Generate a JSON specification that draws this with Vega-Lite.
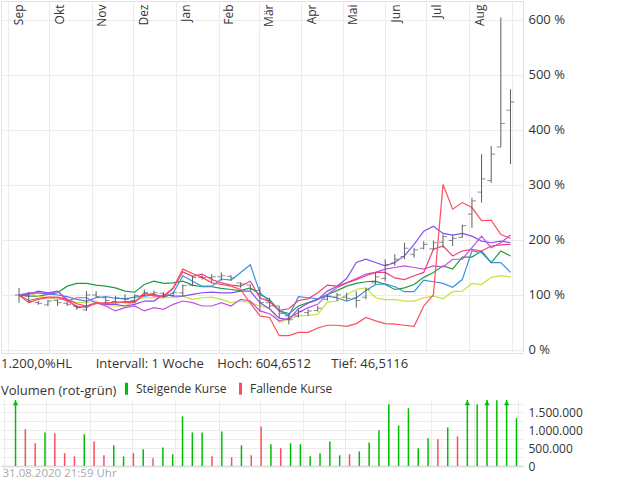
{
  "$schema": "https://vega.github.io/schema/vega-lite/v6.json",
  "padding": 0,
  "autosize": {"type": "pad"},
  "background": "white",
  "spacing": 0,
  "config": {
    "font": "Open Sans",
    "view": {"stroke": null},
    "axis": {"labelFont": "Open Sans", "labelFontSize": 12, "labelColor": "#333333", "gridColor": "#ececec", "gridWidth": 1, "domain": false, "ticks": false, "title": null, "labelOverlap": false}
  },
  "datasets": {
    "lines": [
      {"d": "2019-09-09", "G": 100, "B": 100, "Y": 100, "V": 100, "M": 100, "C": 100, "R": 100},
      {"d": "2019-09-16", "G": 98, "B": 103, "Y": 104, "V": 101, "M": 104, "C": 90, "R": 86},
      {"d": "2019-09-23", "G": 98, "B": 104, "Y": 98, "V": 107, "M": 104, "C": 94, "R": 92},
      {"d": "2019-09-30", "G": 101, "B": 102, "Y": 95, "V": 104, "M": 101, "C": 96, "R": 95},
      {"d": "2019-10-07", "G": 104, "B": 100, "Y": 92, "V": 107, "M": 107, "C": 96, "R": 95},
      {"d": "2019-10-14", "G": 116, "B": 97, "Y": 92, "V": 92, "M": 89, "C": 92, "R": 89},
      {"d": "2019-10-21", "G": 121, "B": 92, "Y": 86, "V": 77, "M": 95, "C": 84, "R": 80},
      {"d": "2019-10-28", "G": 121, "B": 89, "Y": 86, "V": 80, "M": 95, "C": 80, "R": 77},
      {"d": "2019-11-04", "G": 118, "B": 95, "Y": 89, "V": 86, "M": 86, "C": 84, "R": 86},
      {"d": "2019-11-11", "G": 116, "B": 97, "Y": 80, "V": 83, "M": 80, "C": 86, "R": 84},
      {"d": "2019-11-18", "G": 113, "B": 94, "Y": 80, "V": 83, "M": 71, "C": 85, "R": 88},
      {"d": "2019-11-25", "G": 107, "B": 93, "Y": 80, "V": 80, "M": 77, "C": 88, "R": 86},
      {"d": "2019-12-02", "G": 105, "B": 96, "Y": 89, "V": 83, "M": 80, "C": 88, "R": 86},
      {"d": "2019-12-09", "G": 119, "B": 98, "Y": 95, "V": 89, "M": 71, "C": 100, "R": 104},
      {"d": "2019-12-16", "G": 125, "B": 100, "Y": 95, "V": 89, "M": 77, "C": 101, "R": 98},
      {"d": "2019-12-23", "G": 121, "B": 95, "Y": 95, "V": 101, "M": 74, "C": 96, "R": 98},
      {"d": "2019-12-30", "G": 122, "B": 104, "Y": 95, "V": 98, "M": 83, "C": 112, "R": 113},
      {"d": "2020-01-06", "G": 125, "B": 135, "Y": 98, "V": 98, "M": 89, "C": 142, "R": 147},
      {"d": "2020-01-13", "G": 118, "B": 125, "Y": 92, "V": 101, "M": 86, "C": 134, "R": 139},
      {"d": "2020-01-20", "G": 115, "B": 116, "Y": 95, "V": 104, "M": 80, "C": 138, "R": 132},
      {"d": "2020-01-27", "G": 115, "B": 116, "Y": 96, "V": 105, "M": 80, "C": 128, "R": 122},
      {"d": "2020-02-03", "G": 112, "B": 129, "Y": 92, "V": 104, "M": 86, "C": 122, "R": 119},
      {"d": "2020-02-10", "G": 110, "B": 127, "Y": 86, "V": 104, "M": 80, "C": 118, "R": 116},
      {"d": "2020-02-17", "G": 108, "B": 141, "Y": 89, "V": 107, "M": 92, "C": 116, "R": 110},
      {"d": "2020-02-24", "G": 113, "B": 155, "Y": 86, "V": 107, "M": 89, "C": 125, "R": 85},
      {"d": "2020-03-02", "G": 101, "B": 104, "Y": 80, "V": 86, "M": 71, "C": 95, "R": 62},
      {"d": "2020-03-09", "G": 92, "B": 88, "Y": 76, "V": 75, "M": 66, "C": 88, "R": 59},
      {"d": "2020-03-16", "G": 71, "B": 71, "Y": 50, "V": 58, "M": 53, "C": 72, "R": 26},
      {"d": "2020-03-23", "G": 66, "B": 62, "Y": 56, "V": 55, "M": 58, "C": 75, "R": 26},
      {"d": "2020-03-30", "G": 80, "B": 97, "Y": 62, "V": 75, "M": 68, "C": 90, "R": 32},
      {"d": "2020-04-06", "G": 86, "B": 95, "Y": 63, "V": 85, "M": 77, "C": 93, "R": 32},
      {"d": "2020-04-13", "G": 92, "B": 93, "Y": 65, "V": 92, "M": 83, "C": 104, "R": 40},
      {"d": "2020-04-20", "G": 101, "B": 98, "Y": 87, "V": 107, "M": 101, "C": 118, "R": 45},
      {"d": "2020-04-27", "G": 108, "B": 95, "Y": 89, "V": 116, "M": 113, "C": 116, "R": 45},
      {"d": "2020-05-04", "G": 116, "B": 89, "Y": 101, "V": 130, "M": 122, "C": 122, "R": 43},
      {"d": "2020-05-11", "G": 121, "B": 95, "Y": 110, "V": 159, "M": 130, "C": 128, "R": 48},
      {"d": "2020-05-18", "G": 124, "B": 108, "Y": 113, "V": 165, "M": 138, "C": 135, "R": 59},
      {"d": "2020-05-25", "G": 125, "B": 119, "Y": 95, "V": 159, "M": 141, "C": 141, "R": 53},
      {"d": "2020-06-01", "G": 119, "B": 120, "Y": 91, "V": 153, "M": 147, "C": 141, "R": 48},
      {"d": "2020-06-08", "G": 110, "B": 115, "Y": 92, "V": 159, "M": 150, "C": 131, "R": 47},
      {"d": "2020-06-15", "G": 113, "B": 106, "Y": 89, "V": 171, "M": 153, "C": 128, "R": 45},
      {"d": "2020-06-22", "G": 119, "B": 106, "Y": 89, "V": 192, "M": 150, "C": 135, "R": 43},
      {"d": "2020-06-29", "G": 132, "B": 127, "Y": 95, "V": 216, "M": 147, "C": 141, "R": 80},
      {"d": "2020-07-06", "G": 141, "B": 124, "Y": 98, "V": 225, "M": 153, "C": 183, "R": 100},
      {"d": "2020-07-13", "G": 153, "B": 121, "Y": 93, "V": 212, "M": 151, "C": 189, "R": 301},
      {"d": "2020-07-20", "G": 147, "B": 114, "Y": 106, "V": 209, "M": 165, "C": 171, "R": 256},
      {"d": "2020-07-27", "G": 169, "B": 128, "Y": 107, "V": 212, "M": 165, "C": 180, "R": 268},
      {"d": "2020-08-03", "G": 169, "B": 180, "Y": 121, "V": 207, "M": 186, "C": 183, "R": 259},
      {"d": "2020-08-10", "G": 180, "B": 177, "Y": 119, "V": 198, "M": 207, "C": 180, "R": 235},
      {"d": "2020-08-17", "G": 159, "B": 159, "Y": 132, "V": 195, "M": 186, "C": 189, "R": 236},
      {"d": "2020-08-24", "G": 180, "B": 159, "Y": 135, "V": 198, "M": 195, "C": 191, "R": 210},
      {"d": "2020-08-31", "G": 171, "B": 141, "Y": 133, "V": 195, "M": 209, "C": 192, "R": 203}
    ],
    "weeks": [
      {"d": "2019-09-09", "o": 100, "h": 113, "l": 86, "c": 98, "vol": 2500000, "dir": "Steigende Kurse"},
      {"d": "2019-09-16", "o": 98, "h": 104, "l": 86, "c": 88, "vol": 1030000, "dir": "Fallende Kurse"},
      {"d": "2019-09-23", "o": 86, "h": 89, "l": 82, "c": 85, "vol": 640000, "dir": "Fallende Kurse"},
      {"d": "2019-09-30", "o": 82, "h": 91, "l": 80, "c": 89, "vol": 940000, "dir": "Steigende Kurse"},
      {"d": "2019-10-07", "o": 90, "h": 92, "l": 80, "c": 86, "vol": 920000, "dir": "Fallende Kurse"},
      {"d": "2019-10-14", "o": 85, "h": 87, "l": 80, "c": 83, "vol": 360000, "dir": "Fallende Kurse"},
      {"d": "2019-10-21", "o": 80, "h": 81, "l": 73, "c": 77, "vol": 270000, "dir": "Fallende Kurse"},
      {"d": "2019-10-28", "o": 73, "h": 107, "l": 71, "c": 100, "vol": 890000, "dir": "Steigende Kurse"},
      {"d": "2019-11-04", "o": 100, "h": 107, "l": 95, "c": 97, "vol": 690000, "dir": "Fallende Kurse"},
      {"d": "2019-11-11", "o": 95, "h": 96, "l": 86, "c": 90, "vol": 300000, "dir": "Fallende Kurse"},
      {"d": "2019-11-18", "o": 88, "h": 98, "l": 86, "c": 95, "vol": 580000, "dir": "Steigende Kurse"},
      {"d": "2019-11-25", "o": 94, "h": 101, "l": 89, "c": 92, "vol": 270000, "dir": "Steigende Kurse"},
      {"d": "2019-12-02", "o": 90, "h": 101, "l": 86, "c": 99, "vol": 360000, "dir": "Fallende Kurse"},
      {"d": "2019-12-09", "o": 99, "h": 110, "l": 98, "c": 104, "vol": 470000, "dir": "Steigende Kurse"},
      {"d": "2019-12-16", "o": 103, "h": 108, "l": 100, "c": 104, "vol": 220000, "dir": "Fallende Kurse"},
      {"d": "2019-12-23", "o": 103, "h": 105, "l": 95, "c": 98, "vol": 520000, "dir": "Steigende Kurse"},
      {"d": "2019-12-30", "o": 99, "h": 106, "l": 98, "c": 104, "vol": 330000, "dir": "Steigende Kurse"},
      {"d": "2020-01-06", "o": 104, "h": 119, "l": 98, "c": 117, "vol": 1390000, "dir": "Steigende Kurse"},
      {"d": "2020-01-13", "o": 118, "h": 135, "l": 116, "c": 132, "vol": 940000, "dir": "Steigende Kurse"},
      {"d": "2020-01-20", "o": 132, "h": 136, "l": 128, "c": 132, "vol": 940000, "dir": "Steigende Kurse"},
      {"d": "2020-01-27", "o": 132, "h": 138, "l": 123, "c": 133, "vol": 270000, "dir": "Fallende Kurse"},
      {"d": "2020-02-03", "o": 133, "h": 141, "l": 126, "c": 135, "vol": 970000, "dir": "Steigende Kurse"},
      {"d": "2020-02-10", "o": 134, "h": 136, "l": 126, "c": 131, "vol": 240000, "dir": "Fallende Kurse"},
      {"d": "2020-02-17", "o": 122, "h": 123, "l": 113, "c": 120, "vol": 580000, "dir": "Steigende Kurse"},
      {"d": "2020-02-24", "o": 118, "h": 119, "l": 107, "c": 110, "vol": 300000, "dir": "Fallende Kurse"},
      {"d": "2020-03-02", "o": 108, "h": 115, "l": 70, "c": 86, "vol": 1110000, "dir": "Fallende Kurse"},
      {"d": "2020-03-09", "o": 86, "h": 95, "l": 76, "c": 80, "vol": 610000, "dir": "Steigende Kurse"},
      {"d": "2020-03-16", "o": 80, "h": 80, "l": 58, "c": 66, "vol": 500000, "dir": "Fallende Kurse"},
      {"d": "2020-03-23", "o": 62, "h": 65, "l": 46.51, "c": 55, "vol": 640000, "dir": "Steigende Kurse"},
      {"d": "2020-03-30", "o": 62, "h": 74, "l": 59, "c": 70, "vol": 610000, "dir": "Steigende Kurse"},
      {"d": "2020-04-06", "o": 68, "h": 74, "l": 62, "c": 71, "vol": 270000, "dir": "Steigende Kurse"},
      {"d": "2020-04-13", "o": 72, "h": 80, "l": 70, "c": 76, "vol": 360000, "dir": "Steigende Kurse"},
      {"d": "2020-04-20", "o": 92, "h": 101, "l": 90, "c": 98, "vol": 690000, "dir": "Steigende Kurse"},
      {"d": "2020-04-27", "o": 96, "h": 104, "l": 89, "c": 100, "vol": 300000, "dir": "Steigende Kurse"},
      {"d": "2020-05-04", "o": 96, "h": 104, "l": 90, "c": 94, "vol": 330000, "dir": "Fallende Kurse"},
      {"d": "2020-05-11", "o": 94, "h": 107, "l": 77, "c": 90, "vol": 410000, "dir": "Steigende Kurse"},
      {"d": "2020-05-18", "o": 96, "h": 113, "l": 92, "c": 110, "vol": 660000, "dir": "Steigende Kurse"},
      {"d": "2020-05-25", "o": 122, "h": 141, "l": 119, "c": 133, "vol": 1000000, "dir": "Steigende Kurse"},
      {"d": "2020-06-01", "o": 130, "h": 165, "l": 125, "c": 155, "vol": 1730000, "dir": "Steigende Kurse"},
      {"d": "2020-06-08", "o": 158, "h": 174, "l": 153, "c": 165, "vol": 1140000, "dir": "Steigende Kurse"},
      {"d": "2020-06-15", "o": 170, "h": 195, "l": 165, "c": 185, "vol": 1620000, "dir": "Steigende Kurse"},
      {"d": "2020-06-22", "o": 174, "h": 186, "l": 168, "c": 182, "vol": 500000, "dir": "Steigende Kurse"},
      {"d": "2020-06-29", "o": 185, "h": 198, "l": 183, "c": 192, "vol": 780000, "dir": "Steigende Kurse"},
      {"d": "2020-07-06", "o": 184, "h": 199, "l": 181, "c": 195, "vol": 750000, "dir": "Fallende Kurse"},
      {"d": "2020-07-13", "o": 196, "h": 210, "l": 186, "c": 206, "vol": 1080000, "dir": "Steigende Kurse"},
      {"d": "2020-07-20", "o": 199, "h": 210, "l": 189, "c": 203, "vol": 830000, "dir": "Fallende Kurse"},
      {"d": "2020-07-27", "o": 205, "h": 228, "l": 204, "c": 226, "vol": 2200000, "dir": "Steigende Kurse"},
      {"d": "2020-08-03", "o": 247, "h": 277, "l": 222, "c": 271, "vol": 1730000, "dir": "Steigende Kurse"},
      {"d": "2020-08-10", "o": 287, "h": 356, "l": 268, "c": 311, "vol": 2400000, "dir": "Steigende Kurse"},
      {"d": "2020-08-17", "o": 308, "h": 371, "l": 304, "c": 356, "vol": 1840000, "dir": "Steigende Kurse"},
      {"d": "2020-08-24", "o": 369, "h": 604.65, "l": 369, "c": 412, "vol": 2600000, "dir": "Steigende Kurse"},
      {"d": "2020-08-31", "o": 436, "h": 474, "l": 338, "c": 451, "vol": 1340000, "dir": "Steigende Kurse"}
    ]
  },
  "resolve": {"scale": {"x": "independent", "y": "independent", "color": "independent"}},
  "vconcat": [
    {
      "width": 522,
      "height": 352,
      "view": {"stroke": "#e2e2e2"},
      "layer": [
        {
          "data": {"name": "lines"},
          "transform": [{"fold": ["G", "B", "Y", "V", "M", "C", "R"], "as": ["s", "v"]}],
          "mark": {"type": "line", "strokeWidth": 1.2},
          "encoding": {
            "x": {
              "field": "d", "type": "temporal",
              "scale": {"type": "utc", "domain": [{"year": 2019, "month": 8, "date": 26, "hours": 21, "minutes": 40, "utc": true}, {"year": 2020, "month": 9, "date": 9, "hours": 2, "minutes": 30, "utc": true}]},
              "axis": {
                "orient": "top", "grid": true, "tickCount": {"interval": "month", "step": 1},
                "labelAngle": 270, "labelAlign": "right", "labelBaseline": "middle",
                "labelOffset": 10, "labelPadding": -3, "labelFlush": false, "labelOverlap": false, "labelBound": false,
                "labelFontSize": 12,
                "labelExpr": "utcyear(datum.value) == 2020 && utcmonth(datum.value) == 8 ? '' : ['Jan','Feb','Mär','Apr','Mai','Jun','Jul','Aug','Sep','Okt','Nov','Dez'][utcmonth(datum.value)]"
              }
            },
            "y": {
              "field": "v", "type": "quantitative",
              "scale": {"domain": [-5.5, 634.5], "nice": false, "zero": false},
              "axis": {"orient": "right", "grid": true, "values": [0, 100, 200, 300, 400, 500, 600], "labelExpr": "datum.value + ' %'", "labelPadding": 5, "labelFontSize": 13}
            },
            "color": {
              "field": "s", "type": "nominal",
              "scale": {"domain": ["G", "B", "Y", "V", "M", "C", "R"], "range": ["#1f9d3d", "#3b8fe6", "#c6e23a", "#8a4ff0", "#c24fe0", "#ee4276", "#ff4d5a"]},
              "legend": null
            }
          }
        },
        {
          "data": {"name": "weeks"},
          "mark": {"type": "rule", "color": "#5b6066", "strokeWidth": 1},
          "encoding": {
            "x": {"field": "d", "type": "temporal"},
            "y": {"field": "l", "type": "quantitative"},
            "y2": {"field": "h"}
          }
        },
        {
          "data": {"name": "weeks"},
          "mark": {"type": "tick", "orient": "horizontal", "color": "#5b6066", "size": 4, "thickness": 1, "xOffset": -2},
          "encoding": {
            "x": {"field": "d", "type": "temporal"},
            "y": {"field": "o", "type": "quantitative"}
          }
        },
        {
          "data": {"name": "weeks"},
          "mark": {"type": "tick", "orient": "horizontal", "color": "#5b6066", "size": 4, "thickness": 1, "xOffset": 2},
          "encoding": {
            "x": {"field": "d", "type": "temporal"},
            "y": {"field": "c", "type": "quantitative"}
          }
        }
      ]
    },
    {
      "width": 522,
      "height": 66,
      "data": {"name": "weeks"},
      "title": {
        "text": "1.200,0%HL\u00a0\u00a0\u00a0\u00a0\u00a0\u00a0\u00a0Intervall: 1 Woche\u00a0\u00a0\u00a0\u00a0Hoch: 604,6512\u00a0\u00a0\u00a0\u00a0\u00a0\u00a0Tief: 46,5116",
        "anchor": "start", "frame": "group", "fontSize": 13, "fontWeight": "normal", "color": "#333333", "font": "Open Sans", "offset": 10
      },
      "encoding": {
        "x": {
          "field": "d", "type": "temporal",
          "scale": {"type": "utc", "domain": [{"year": 2019, "month": 8, "date": 29, "hours": 15, "minutes": 36, "utc": true}, {"year": 2020, "month": 9, "date": 4, "hours": 15, "minutes": 36, "utc": true}]},
          "axis": {
            "orient": "bottom", "grid": true, "tickCount": {"interval": "month", "step": 1},
            "labels": false, "ticks": false, "domain": true, "domainColor": "#e0e0e0", "domainWidth": 2,
            "title": "31.08.2020 21:59 Uhr", "titleAnchor": "start", "titleAlign": "left", "titleColor": "#aaaaaa",
            "titleFontWeight": "normal", "titleFontSize": 11.5, "titleFont": "Open Sans", "titlePadding": 1, "titleX": 1
          }
        },
        "y": {
          "field": "vol", "type": "quantitative",
          "scale": {"domain": [0, 1850000], "nice": false, "clamp": true},
          "axis": {
            "orient": "right", "grid": true, "values": [0, 250000, 500000, 750000, 1000000, 1250000, 1500000, 1750000],
            "labelExpr": "datum.value < 1 ? '0' : (datum.value > 499999 && datum.value < 500001) ? '500.000' : (datum.value > 999999 && datum.value < 1000001) ? '1.000.000' : (datum.value > 1499999 && datum.value < 1500001) ? '1.500.000' : ''",
            "labelPadding": 5, "labelFontSize": 12, "labelOverlap": false, "labelBound": false, "labelFlush": false
          }
        }
      },
      "layer": [
        {
          "mark": {"type": "rule", "strokeWidth": 1.5},
          "encoding": {
            "y2": {"datum": 0},
            "color": {
              "field": "dir", "type": "nominal",
              "scale": {"domain": ["Steigende Kurse", "Fallende Kurse"], "range": ["#00bf00", "#ff4d5e"]},
              "legend": {
                "orient": "none", "legendX": 0, "legendY": -19, "direction": "horizontal",
                "title": "Volumen (rot-grün)", "titleOrient": "left", "titleFontWeight": "normal", "titleFontSize": 13,
                "titleColor": "#333333", "titleFont": "Open Sans", "titlePadding": 2,
                "labelFontSize": 12, "labelColor": "#333333", "labelFont": "Open Sans", "labelOffset": 2,
                "symbolType": "M0,-1V1", "symbolSize": 144, "symbolStrokeWidth": 3, "columnPadding": 6
              }
            }
          }
        },
        {
          "transform": [{"filter": "datum.vol > 1850000"}],
          "mark": {"type": "point", "shape": "triangle-up", "filled": true, "size": 30, "color": "#00bf00", "opacity": 1, "yOffset": 3}
        }
      ]
    }
  ]
}
